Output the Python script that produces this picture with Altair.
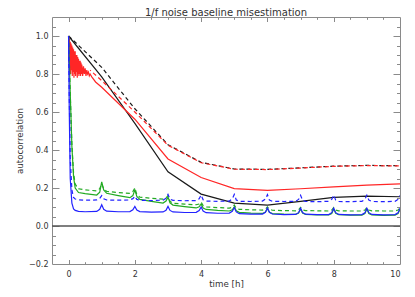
import altair as alt
import pandas as pd

TITLE = "1/f noise baseline misestimation"
X_TITLE = "time [h]"
Y_TITLE = "autocorrelation"
X_DOMAIN = [-0.5, 10]
Y_DOMAIN = [-0.2, 1.1]
X_LABELS = [0, 2, 4, 6, 8, 10]
Y_LABELS = [-0.2, 0.0, 0.2, 0.4, 0.6, 0.8, 1.0]
X_TICKS = [0, 0.5, 1, 1.5, 2, 2.5, 3, 3.5, 4, 4.5, 5, 5.5, 6, 6.5, 7, 7.5, 8, 8.5, 9, 9.5]
Y_TICKS = [-0.15, -0.1, -0.05, 0.0, 0.05, 0.1, 0.15, 0.2, 0.25, 0.3, 0.35, 0.4, 0.45,
           0.5, 0.55, 0.6, 0.65, 0.7, 0.75, 0.8, 0.85, 0.9, 0.95, 1.0, 1.05]

# black curves (sampled every hour)
black_t = [0, 1, 2, 3, 4, 5, 6, 7, 8, 9, 10]
black_solid = [1.0, 0.785, 0.54, 0.285, 0.168, 0.12, 0.11, 0.13, 0.151, 0.157, 0.154]
black_dash = [1.0, 0.835, 0.617, 0.428, 0.335, 0.30, 0.298, 0.306, 0.315, 0.319, 0.317]

# red curves
red_solid_t = [0.0, 0.0125, 0.025, 0.0375, 0.05, 0.0625, 0.075, 0.0875, 0.1, 0.1125,
               0.125, 0.1375, 0.15, 0.1625, 0.175, 0.1875, 0.2, 0.2125, 0.225, 0.2375,
               0.25, 0.2625, 0.275, 0.2875, 0.3, 0.3125, 0.325, 0.3375, 0.35, 0.3625,
               0.375, 0.3875, 0.4, 0.425, 0.45, 0.475, 0.5, 0.525, 0.55, 0.575,
               0.6, 0.625, 0.65, 0.7, 0.815, 1, 2, 3, 4, 5, 6, 7, 8, 9, 10]
red_solid = [1.00, 0.86, 0.99, 0.83, 0.97, 0.80, 0.96, 0.82, 0.95, 0.79,
             0.94, 0.81, 0.93, 0.78, 0.92, 0.80, 0.92, 0.79, 0.90, 0.81,
             0.90, 0.78, 0.89, 0.80, 0.88, 0.79, 0.87, 0.80, 0.87, 0.79,
             0.86, 0.80, 0.85, 0.79, 0.84, 0.80, 0.83, 0.79, 0.82, 0.80,
             0.81, 0.79, 0.80, 0.785, 0.758, 0.73, 0.562, 0.353, 0.255, 0.197, 0.187,
             0.196, 0.206, 0.215, 0.222]
red_dash_t = [0.65, 1, 2, 3, 4, 5, 6, 7, 8, 9, 10]
red_dash = [0.82, 0.765, 0.60, 0.425, 0.333, 0.299, 0.297, 0.305, 0.314, 0.318, 0.316]

# green / blue curves with cusps at each hour
cusp_t = [0.0, 0.02, 0.05, 0.1, 0.15, 0.2, 0.3, 0.5, 0.85, 0.94,
          1.0, 1.06, 1.15, 1.5, 1.85, 1.94,
          2.0, 2.06, 2.15, 2.5, 2.85, 2.94,
          3.0, 3.06, 3.15, 3.5, 3.85, 3.94,
          4.0, 4.06, 4.15, 4.5, 4.85, 4.94,
          5.0, 5.06, 5.15, 5.5, 5.85, 5.94,
          6.0, 6.06, 6.15, 6.5, 6.85, 6.94,
          7.0, 7.06, 7.15, 7.5, 7.85, 7.94,
          8.0, 8.06, 8.15, 8.5, 8.85, 8.94,
          9.0, 9.06, 9.15, 9.5, 9.85, 9.94,
          10.0]
green_solid = [1.0, 0.88, 0.70, 0.42, 0.26, 0.20, 0.176, 0.170, 0.163, 0.178,
               0.232, 0.190, 0.172, 0.160, 0.149, 0.160,
               0.190, 0.155, 0.140, 0.130, 0.121, 0.131,
               0.152, 0.122, 0.110, 0.102, 0.095, 0.101,
               0.116, 0.095, 0.087, 0.082, 0.079, 0.085,
               0.100, 0.080, 0.072, 0.068, 0.066, 0.073,
               0.092, 0.072, 0.065, 0.062, 0.061, 0.068,
               0.090, 0.068, 0.061, 0.058, 0.058, 0.066,
               0.090, 0.067, 0.060, 0.057, 0.057, 0.065,
               0.089, 0.066, 0.059, 0.056, 0.057, 0.065,
               0.088]
green_dash = [1.0, 0.88, 0.70, 0.43, 0.28, 0.22, 0.196, 0.190, 0.185, 0.196,
              0.222, 0.195, 0.182, 0.176, 0.172, 0.181,
              0.200, 0.165, 0.152, 0.146, 0.142, 0.148,
              0.160, 0.130, 0.120, 0.115, 0.112, 0.116,
              0.126, 0.108, 0.100, 0.097, 0.094, 0.099,
              0.110, 0.093, 0.088, 0.085, 0.084, 0.089,
              0.100, 0.088, 0.083, 0.081, 0.080, 0.085,
              0.098, 0.085, 0.081, 0.080, 0.079, 0.084,
              0.097, 0.084, 0.080, 0.079, 0.079, 0.084,
              0.097, 0.084, 0.080, 0.079, 0.079, 0.084,
              0.096]
blue_solid = [1.0, 0.62, 0.25, 0.12, 0.09, 0.082, 0.077, 0.075, 0.077, 0.088,
              0.112, 0.088, 0.078, 0.075, 0.076, 0.085,
              0.103, 0.084, 0.076, 0.073, 0.074, 0.083,
              0.103, 0.082, 0.074, 0.071, 0.072, 0.081,
              0.100, 0.079, 0.070, 0.067, 0.068, 0.077,
              0.097, 0.074, 0.065, 0.062, 0.063, 0.072,
              0.095, 0.072, 0.063, 0.060, 0.061, 0.070,
              0.094, 0.071, 0.062, 0.060, 0.060, 0.070,
              0.094, 0.070, 0.061, 0.059, 0.060, 0.069,
              0.093, 0.070, 0.061, 0.059, 0.060, 0.069,
              0.093]
blue_dash = [1.0, 0.70, 0.36, 0.19, 0.15, 0.142, 0.138, 0.136, 0.137, 0.145,
             0.160, 0.143, 0.137, 0.136, 0.137, 0.144,
             0.157, 0.140, 0.135, 0.134, 0.136, 0.146,
             0.166, 0.142, 0.135, 0.133, 0.134, 0.143,
             0.163, 0.138, 0.131, 0.130, 0.131, 0.142,
             0.166, 0.137, 0.130, 0.129, 0.131, 0.142,
             0.165, 0.137, 0.130, 0.129, 0.130, 0.140,
             0.162, 0.136, 0.129, 0.128, 0.130, 0.140,
             0.162, 0.136, 0.129, 0.128, 0.130, 0.140,
             0.162, 0.136, 0.129, 0.128, 0.130, 0.140,
             0.161]

W, H = 348, 247
FONT = "DejaVu Sans"
AXIS_GRAY = "#8a8a8a"
TEXT_GRAY = "#333333"

xs = alt.Scale(domain=X_DOMAIN, nice=False, zero=False)
ys = alt.Scale(domain=Y_DOMAIN, nice=False, zero=False)

x_major = {"condition": {"test": "datum.value % 2 === 0", "value": 4.5}, "value": 2.3}
y_major = {"condition": {"test": "abs(round(datum.value * 20)) % 4 === 0", "value": 7}, "value": 3.5}


def tick_axis(orient, values, size, offset):
    return alt.Axis(orient=orient, values=values, tickSize=size, offset=offset,
                    labels=False, domain=False, grid=False, title=None,
                    tickColor=AXIS_GRAY, tickWidth=1)


frame = pd.DataFrame({"t": X_DOMAIN, "v": Y_DOMAIN})

ticks_a = alt.Chart(frame).mark_point(opacity=0, size=1).encode(
    x=alt.X("t:Q", scale=xs, axis=tick_axis("top", X_TICKS, x_major, -H)),
    y=alt.Y("v:Q", scale=ys, axis=tick_axis("right", Y_TICKS, y_major, -W)),
)
ticks_b = alt.Chart(frame).mark_point(opacity=0, size=1).encode(
    x=alt.X("t:Q", scale=xs, axis=tick_axis("bottom", X_TICKS, x_major, -H)),
    y=alt.Y("v:Q", scale=ys, axis=tick_axis("left", Y_TICKS, y_major, -W)),
)

zero_df = pd.DataFrame({"t": [X_DOMAIN[0]], "t2": [X_DOMAIN[1]], "v": [0.0]})
zero_line = alt.Chart(zero_df).mark_rule(color="#555555", strokeWidth=1.6).encode(
    x=alt.X("t:Q", scale=xs, axis=alt.Axis(
        orient="bottom", values=X_LABELS, format="d", tickSize=0, domain=False, grid=False,
        labelPadding=6, labelFont=FONT, labelFontSize=8, labelColor=TEXT_GRAY,
        title=X_TITLE, titleFont=FONT, titleFontSize=8.7, titleFontWeight="normal",
        titleColor=TEXT_GRAY, titleBaseline="alphabetic", titleY=22, titleX=W / 2)),
    x2="t2:Q",
    y=alt.Y("v:Q", scale=ys, axis=alt.Axis(
        orient="left", values=Y_LABELS, format=".1f", tickSize=0, domain=False, grid=False,
        labelPadding=4, labelFont=FONT, labelFontSize=8, labelColor=TEXT_GRAY,
        title=Y_TITLE, titleFont=FONT, titleFontSize=8.7, titleFontWeight="normal",
        titleColor=TEXT_GRAY, titleBaseline="alphabetic", titleX=-30, titleY=H / 2,
        titleAngle=-90)),
)

title_df = pd.DataFrame({"label": [TITLE]})
title_mark = alt.Chart(title_df).mark_text(
    font=FONT, fontSize=10, color=TEXT_GRAY, align="center", baseline="alphabetic"
).encode(text="label:N", x=alt.value(W / 2), y=alt.value(-1.4))


def series(t, v, color, dashed=False, dash_offset=0):
    df = pd.DataFrame({"t": t, "v": v})
    kw = {"color": color, "strokeWidth": 1.2, "clip": True}
    if dashed:
        kw["strokeDash"] = [4, 3]
        kw["strokeDashOffset"] = dash_offset
    return alt.Chart(df).mark_line(**kw).encode(
        x=alt.X("t:Q", scale=xs, axis=None),
        y=alt.Y("v:Q", scale=ys, axis=None),
    )


BLACK = "#1a1a1a"
RED = "#ff2626"
GREEN = "#22aa22"
BLUE = "#2222ff"

layers = [
    ticks_a,
    ticks_b,
    zero_line,
    series(black_t, black_solid, BLACK),
    series(black_t, black_dash, BLACK, True),
    series(red_solid_t, red_solid, RED),
    series(red_dash_t, red_dash, RED, True, 3),
    series(cusp_t, green_solid, GREEN),
    series(cusp_t, green_dash, GREEN, True),
    series(cusp_t, blue_solid, BLUE),
    series(cusp_t, blue_dash, BLUE, True),
    title_mark,
]

chart = alt.layer(*layers).resolve_axis(x="independent", y="independent").properties(
    width=W, height=H,
    autosize=alt.AutoSizeParams(type="none"),
    padding={"left": 44, "top": 9, "right": 5, "bottom": 25},
    background="white",
).configure_view(stroke=AXIS_GRAY, strokeWidth=1)

chart.save("out.html", embed_options={"renderer": "svg", "actions": False})
